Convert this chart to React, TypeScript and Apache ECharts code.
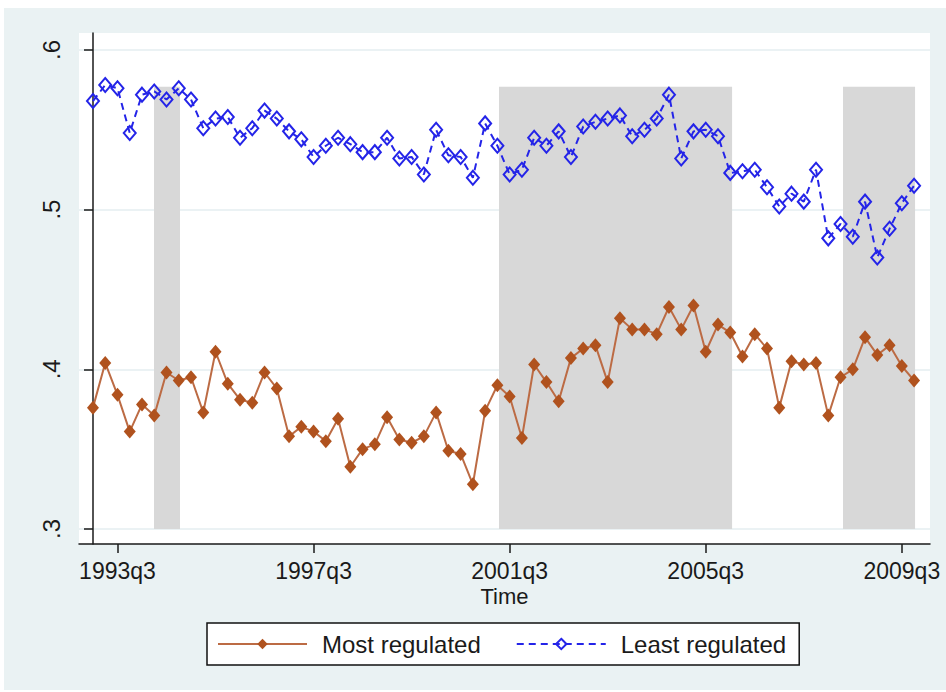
import React, { useEffect, useRef } from "react";
import * as echarts from "echarts";

// Quarter index 0 = 1993q1
const startYear = 1993;

const mostRegulated = [
  0.376, 0.404, 0.384, 0.361, 0.378, 0.371, 0.398, 0.393, 0.395, 0.373,
  0.411, 0.391, 0.381, 0.379, 0.398, 0.388, 0.358, 0.364, 0.361, 0.355,
  0.369, 0.339, 0.35, 0.353, 0.37, 0.356, 0.354, 0.358, 0.373, 0.349,
  0.347, 0.328, 0.374, 0.39, 0.383, 0.357, 0.403, 0.392, 0.38, 0.407,
  0.413, 0.415, 0.392, 0.432, 0.425, 0.425, 0.422, 0.439, 0.425, 0.44,
  0.411, 0.428, 0.423, 0.408, 0.422, 0.413, 0.376, 0.405, 0.403, 0.404,
  0.371, 0.395, 0.4, 0.42, 0.409, 0.415, 0.402, 0.393,
];

const leastRegulated = [
  0.568, 0.578, 0.576, 0.548, 0.572, 0.574, 0.569, 0.576, 0.569, 0.551,
  0.557, 0.558, 0.545, 0.551, 0.562, 0.557, 0.549, 0.544, 0.533, 0.54,
  0.545, 0.541, 0.536, 0.536, 0.545, 0.532, 0.533, 0.522, 0.55, 0.534,
  0.533, 0.52, 0.554, 0.54, 0.522, 0.525, 0.545, 0.54, 0.549, 0.533,
  0.552, 0.555, 0.557, 0.559, 0.546, 0.55, 0.557, 0.572, 0.532, 0.549,
  0.55, 0.546, 0.523, 0.524, 0.525, 0.514, 0.502, 0.51, 0.505, 0.525,
  0.482, 0.491, 0.483, 0.505, 0.47, 0.488, 0.504, 0.515,
];

const xTickQuarters = [2, 18, 34, 50, 66]; // 1993q3 ... 2009q3
const yTicks = [0.3, 0.4, 0.5, 0.6];

// Shaded periods (in quarter index units)
const shadeStart = [4.98, 33.13, 61.2];
const shadeEnd = [7.1, 52.15, 67.08];
const shadeBottom = 0.3;
const shadeTop = 0.577;

function quarterLabel(i: number): string {
  const y = startYear + Math.floor(i / 4);
  const q = (((i % 4) + 4) % 4) + 1;
  return `${y}q${q}`;
}

export default function App() {
  const ref = useRef<HTMLDivElement>(null);

  useEffect(() => {
    if (!ref.current) return;
    const chart = echarts.init(ref.current, undefined, { renderer: "svg" });
    const font = "'Liberation Sans', Arial, sans-serif";
    const dark = "#1a1a1a";
    const option: any = {
      animation: false,
      backgroundColor: "#EAF2F3",
      textStyle: { fontFamily: font },
      grid: {
        left: 75,
        top: 25,
        right: 16,
        bottom: 146,
        show: true,
        backgroundColor: "#ffffff",
        borderWidth: 0,
      },
      legend: {
        data: ["Most regulated", "Least regulated"],
        left: 203,
        top: 615,
        itemWidth: 89,
        itemHeight: 13,
        itemGap: 35,
        padding: [9, 13, 9, 10],
        borderColor: "#111",
        borderWidth: 1.5,
        backgroundColor: "#ffffff",
        selectedMode: false,
        textStyle: {
          fontSize: 24,
          color: dark,
          fontFamily: font,
          padding: [0, 0, 0, 10],
        },
      },
      xAxis: {
        type: "value",
        min: -1.14,
        max: 68.3,
        name: "Time",
        nameLocation: "middle",
        nameGap: 42,
        nameMoveOverlap: false,
        nameTextStyle: { fontSize: 22, lineHeight: 20, color: dark, fontFamily: font },
        axisLine: { show: true, lineStyle: { color: dark, width: 1.5 } },
        axisTick: {
          show: true,
          customValues: xTickQuarters,
          length: 9,
          lineStyle: { color: dark, width: 1.5 },
        },
        axisLabel: {
          customValues: xTickQuarters,
          formatter: (v: number) => quarterLabel(Math.round(v)),
          fontSize: 23,
          color: dark,
          margin: 15,
          fontFamily: font,
        },
        splitLine: { show: false },
      },
      yAxis: {
        type: "value",
        min: 0.2906,
        max: 0.6106,
        axisLine: { show: true, lineStyle: { color: dark, width: 1.5 } },
        axisTick: {
          show: true,
          customValues: yTicks,
          length: 9,
          lineStyle: { color: dark, width: 1.5 },
        },
        axisLabel: {
          customValues: yTicks,
          rotate: 90,
          formatter: (v: number) => v.toFixed(1).replace(/^0/, ""),
          fontSize: 24,
          color: dark,
          margin: 16,
          fontFamily: font,
        },
        splitLine: {
          show: true,
          lineStyle: { color: "#E4EEF0", width: 1.5 },
        },
      },
      series: [
        {
          name: "shade",
          type: "line",
          data: [],
          z: 1,
          silent: true,
          markArea: {
            silent: true,
            itemStyle: { color: "#D8D8D8" },
            data: shadeStart.map((s, k) => [
              { coord: [s, shadeBottom] },
              { coord: [shadeEnd[k], shadeTop] },
            ]),
          },
        },
        {
          name: "Most regulated",
          type: "line",
          z: 3,
          data: mostRegulated.map((v, i) => [i, v]),
          symbol: "diamond",
          symbolSize: [12, 14],
          itemStyle: { color: "#B0521E" },
          lineStyle: { color: "#BC6B44", width: 2 },
        },
        {
          name: "Least regulated",
          type: "line",
          z: 4,
          data: leastRegulated.map((v, i) => [i, v]),
          symbol: "diamond",
          symbolSize: [12, 14],
          itemStyle: {
            color: "rgba(255,255,255,0)",
            borderColor: "#2424E8",
            borderWidth: 2,
          },
          lineStyle: { color: "#2424E8", width: 2, type: [7, 5] },
        },
      ],
    };
    chart.setOption(option);
    return () => chart.dispose();
  }, []);

  return (
    <div
      style={{
        position: "fixed",
        left: 0,
        top: 0,
        width: 946,
        height: 692,
        background: "#ffffff",
        overflow: "hidden",
      }}
    >
      <div
        ref={ref}
        style={{ position: "absolute", left: 4, top: 8, width: 942, height: 682 }}
      />
    </div>
  );
}
